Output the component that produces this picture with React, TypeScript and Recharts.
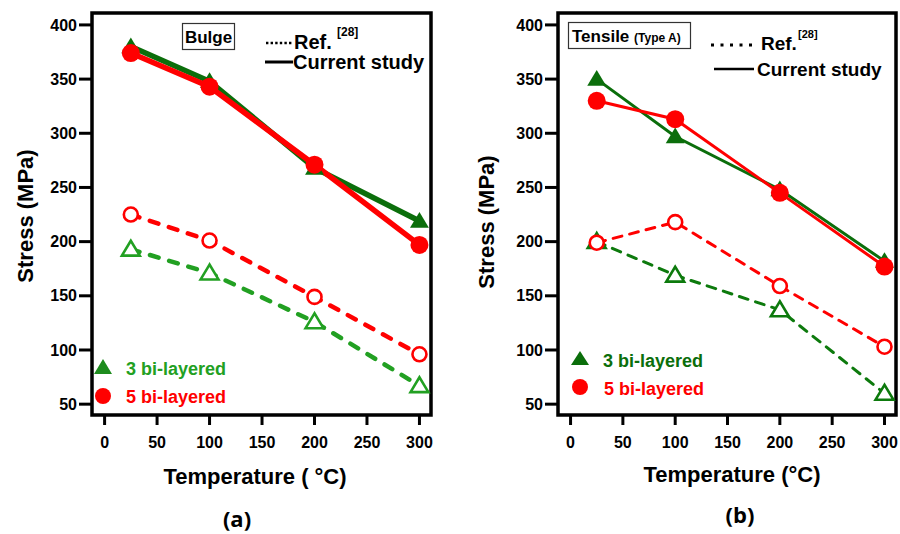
import React from 'react'
import { LineChart, Line, XAxis, YAxis, ReferenceArea } from 'recharts'

const temps = [25, 100, 200, 300]

// (a) Bulge
const bulge3Current = [380, 348, 268, 219]
const bulge5Current = [374, 343, 271, 197]
const bulge3Ref = [193, 171, 126, 67]
const bulge5Ref = [225, 201, 149, 96]

// (b) Tensile (Type A)
const tensile3Current = [350, 297, 248, 182]
const tensile5Current = [330, 313, 245, 177]
const tensile3Ref = [200, 169, 137, 60]
const tensile5Ref = [199, 218, 159, 103]

const xTicks = [0, 50, 100, 150, 200, 250, 300]
const yTicks = [50, 100, 150, 200, 250, 300, 350, 400]

const bulgeData = temps.map((t, i) => ({
  t,
  c3: bulge3Current[i],
  c5: bulge5Current[i],
  r3: bulge3Ref[i],
  r5: bulge5Ref[i],
}))
const tensileData = temps.map((t, i) => ({
  t,
  c3: tensile3Current[i],
  c5: tensile5Current[i],
  r3: tensile3Ref[i],
  r5: tensile5Ref[i],
}))

const FONT = '"Liberation Sans", Arial, sans-serif'
const RED = '#ff0000'
const DKGREEN = '#0b6e0b'
const LTGREEN = '#22a022'

const marker =
  (shape: 'tri' | 'circle', filled: boolean, color: string, size: number, sw = 2.5) =>
  (p: any) => {
    const { cx, cy, index } = p
    if (cx == null || cy == null) return <g key={index} />
    if (shape === 'circle') {
      return (
        <circle
          key={index}
          cx={cx}
          cy={cy}
          r={size}
          fill={filled ? color : '#fff'}
          stroke={color}
          strokeWidth={filled ? 0 : sw}
        />
      )
    }
    const pts = `${cx},${cy - size} ${cx - size * 1.05},${cy + size * 0.75} ${cx + size * 1.05},${cy + size * 0.75}`
    return (
      <polygon
        key={index}
        points={pts}
        fill={filled ? color : '#fff'}
        stroke={color}
        strokeWidth={filled ? 0 : sw}
        strokeLinejoin="miter"
      />
    )
  }

const tickStyle = { fontFamily: FONT, fontWeight: 700, fontSize: 16, fill: '#000' }

function Panel({
  data,
  left,
  axisW,
  marginRight,
  solidW,
  dashW,
  dash,
  ref3Color,
}: {
  data: any[]
  left: number
  axisW: number
  marginRight: number
  solidW: number
  dashW: number
  dash: string
  ref3Color: string
}) {
  return (
    <div style={{ position: 'absolute', left, top: 0 }}>
      <LineChart
        width={450}
        height={534}
        data={data}
        margin={{ top: 13, right: marginRight, bottom: 59, left: 0 }}
      >
        <XAxis
          dataKey="t"
          type="number"
          domain={[-12, 311]}
          ticks={xTicks}
          allowDataOverflow
          axisLine={false}
          tickLine={{ stroke: '#000', strokeWidth: 3 }}
          tickSize={10}
          tickMargin={12}
          tick={tickStyle}
          height={60}
        />
        <YAxis
          domain={[40, 411]}
          ticks={yTicks}
          allowDataOverflow
          axisLine={false}
          tickLine={{ stroke: '#000', strokeWidth: 3 }}
          tickSize={13}
          tickMargin={2}
          tick={tickStyle}
          width={axisW}
        />
        <ReferenceArea
          x1={-12}
          x2={311}
          y1={40}
          y2={411}
          fill="none"
          stroke="#000"
          strokeWidth={3.5}
          ifOverflow="visible"
        />
        <Line
          dataKey="r3"
          stroke={ref3Color}
          strokeWidth={dashW}
          strokeDasharray={dash}
          strokeLinecap="round"
          dot={marker('tri', false, ref3Color, 8.5, 2.6)}
          isAnimationActive={false}
        />
        <Line
          dataKey="r5"
          stroke={RED}
          strokeWidth={dashW}
          strokeDasharray={dash}
          strokeLinecap="round"
          dot={marker('circle', false, RED, 7, 2.6)}
          isAnimationActive={false}
        />
        <Line
          dataKey="c3"
          stroke={DKGREEN}
          strokeWidth={solidW}
          dot={marker('tri', true, DKGREEN, 9)}
          isAnimationActive={false}
        />
        <Line
          dataKey="c5"
          stroke={RED}
          strokeWidth={solidW}
          dot={marker('circle', true, RED, 9)}
          isAnimationActive={false}
        />
      </LineChart>
    </div>
  )
}

const bold = { fontFamily: FONT, fontWeight: 700 }

export default function App() {
  return (
    <div
      style={{
        position: 'absolute',
        left: 0,
        top: 0,
        width: 900,
        height: 534,
        background: '#fff',
        overflow: 'hidden',
      }}
    >
      <Panel
        data={bulgeData}
        left={0}
        axisW={92}
        marginRight={19}
        solidW={5.5}
        dashW={4.5}
        dash="9 11"
        ref3Color={LTGREEN}
      />
      <Panel
        data={tensileData}
        left={450}
        axisW={108}
        marginRight={4}
        solidW={3}
        dashW={3}
        dash="9 8"
        ref3Color={'#0d7a0d'}
      />
      <svg
        width={900}
        height={534}
        style={{ position: 'absolute', left: 0, top: 0, pointerEvents: 'none' }}
      >
        {/* panel (a) labels */}
        <text
          transform="translate(33,216) rotate(-90)"
          textAnchor="middle"
          style={{ ...bold, fontSize: 22 }}
        >
          Stress (MPa)
        </text>
        <text x={255} y={484} textAnchor="middle" style={{ ...bold, fontSize: 22 }}>
          Temperature ( °C)
        </text>
        <text x={237} y={527} textAnchor="middle" style={{ ...bold, fontSize: 22, fontFamily: '"Open Sans", sans-serif' }}>
          (a)
        </text>
        <rect x={182.5} y={23.5} width={52} height={26} fill="#fff" stroke="#333" strokeWidth={1.2} />
        <text x={208.5} y={43} textAnchor="middle" style={{ ...bold, fontSize: 17 }}>
          Bulge
        </text>
        <line x1={266} y1={43} x2={293} y2={43} stroke="#000" strokeWidth={2.5} strokeDasharray="2.4 2.2" />
        <text x={294} y={49} style={{ ...bold, fontSize: 20 }}>
          Ref.
        </text>
        <text x={337} y={36} style={{ ...bold, fontSize: 12 }}>
          [28]
        </text>
        <line x1={265} y1={62} x2={293} y2={62} stroke="#000" strokeWidth={3} />
        <text x={293} y={69} style={{ ...bold, fontSize: 20 }}>
          Current study
        </text>
        <polygon points="103,359 94,374 112,374" fill="#1e8c1e" />
        <text x={126} y={375} style={{ ...bold, fontSize: 18, fill: LTGREEN }}>
          3 bi-layered
        </text>
        <circle cx={103} cy={396} r={8} fill={RED} />
        <text x={126} y={403} style={{ ...bold, fontSize: 18, fill: RED }}>
          5 bi-layered
        </text>

        {/* panel (b) labels */}
        <text
          transform="translate(494,222) rotate(-90)"
          textAnchor="middle"
          style={{ ...bold, fontSize: 22 }}
        >
          Stress (MPa)
        </text>
        <text x={732} y={482} textAnchor="middle" style={{ ...bold, fontSize: 22 }}>
          Temperature (°C)
        </text>
        <text x={740} y={523} textAnchor="middle" style={{ ...bold, fontSize: 22, fontFamily: '"Open Sans", sans-serif' }}>
          (b)
        </text>
        <rect x={568.5} y={22.5} width={122} height={26} fill="#fff" stroke="#333" strokeWidth={1.2} />
        <text x={572} y={42} style={{ ...bold, fontSize: 17 }}>
          Tensile <tspan style={{ fontSize: 12 }}>(Type A)</tspan>
        </text>
        <line x1={711} y1={45} x2={752} y2={45} stroke="#000" strokeWidth={3} strokeDasharray="3 6.5" />
        <text x={761} y={50} style={{ ...bold, fontSize: 19 }}>
          Ref.
        </text>
        <text x={798} y={38} style={{ ...bold, fontSize: 11 }}>
          [28]
        </text>
        <line x1={714} y1={69} x2={754} y2={69} stroke="#000" strokeWidth={2.5} />
        <text x={757} y={76} style={{ ...bold, fontSize: 19 }}>
          Current study
        </text>
        <polygon points="580,351 571,365 589,365" fill={DKGREEN} />
        <text x={603} y={367} style={{ ...bold, fontSize: 18, fill: DKGREEN }}>
          3 bi-layered
        </text>
        <circle cx={580} cy={387} r={8} fill={RED} />
        <text x={604} y={395} style={{ ...bold, fontSize: 18, fill: RED }}>
          5 bi-layered
        </text>
      </svg>
    </div>
  )
}
